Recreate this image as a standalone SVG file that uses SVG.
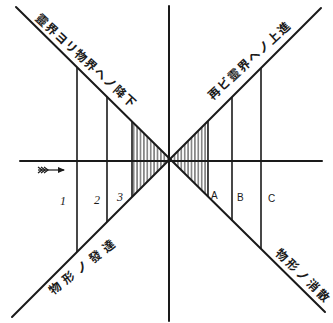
<svg xmlns="http://www.w3.org/2000/svg" width="333" height="323" viewBox="0 0 333 323">
  <defs>
    <style>
      .axis { stroke: #1a1a1a; stroke-width: 2; fill: none; stroke-linecap: round; }
      .vl { stroke: #1a1a1a; stroke-width: 1.6; fill: none; }
      .jp { font-family: "Noto Sans CJK JP", "Noto Sans CJK SC", sans-serif; font-size: 12px; font-weight: 700; fill: #1a1a1a; }
      .num { font-family: "Liberation Serif", serif; font-style: italic; font-size: 12px; fill: #1a1a1a; }
      .let { font-family: "Liberation Sans", sans-serif; font-size: 10px; fill: #1a1a1a; }
    </style>
    <pattern id="hatch" width="3.4" height="10" patternUnits="userSpaceOnUse" x="132">
      <line x1="1.7" y1="0" x2="1.7" y2="10" stroke="#1a1a1a" stroke-width="0.9"/>
    </pattern>
  </defs>
  <rect width="333" height="323" fill="#ffffff"/>

  <g id="connectors">
    <line class="axis" x1="169" y1="6" x2="169" y2="321"/>
    <line class="axis" x1="20" y1="161" x2="322" y2="161"/>
    <line class="axis" x1="16" y1="7" x2="325" y2="312"/>
    <line class="axis" x1="321" y1="8" x2="12" y2="317"/>
  </g>

  <g id="hatching">
    <polygon points="132,121.5 170,159 132,197" fill="url(#hatch)"/>
    <polygon points="208,121 170,159 208,196.5" fill="url(#hatch)"/>
  </g>

  <g id="line-1"><line class="vl" x1="77" y1="67.2" x2="77" y2="252"/><text class="num" x="60" y="205">1</text></g>
  <g id="line-2"><line class="vl" x1="107" y1="96.8" x2="107" y2="222"/><text class="num" x="94" y="204">2</text></g>
  <g id="line-3"><line class="vl" x1="132" y1="121.5" x2="132" y2="197"/><text class="num" x="117" y="201">3</text></g>
  <g id="line-A"><line class="vl" x1="208" y1="121" x2="208" y2="196.5"/><text class="let" x="211" y="199">A</text></g>
  <g id="line-B"><line class="vl" x1="232" y1="97" x2="232" y2="220.2"/><text class="let" x="237" y="201">B</text></g>
  <g id="line-C"><line class="vl" x1="261" y1="68" x2="261" y2="248.8"/><text class="let" x="268" y="202">C</text></g>

  <g id="arrow">
    <line x1="38" y1="170" x2="64" y2="170" stroke="#1a1a1a" stroke-width="1.2"/>
    <path d="M58,167 L65,170 L58,173 Z" fill="#1a1a1a"/>
    <path d="M38,167 L42,170 L38,173 M41,167 L45,170 L41,173 M44,167 L48,170 L44,173" stroke="#1a1a1a" stroke-width="1.2" fill="none"/>
  </g>

  <g id="label-descent">
    <text class="jp" transform="translate(34.5,19.3) rotate(42.5)" textLength="131" lengthAdjust="spacing">靈界ヨリ物界ヘノ降下</text>
  </g>
  <g id="label-ascent">
    <text class="jp" transform="translate(212.7,100.4) rotate(-43)" textLength="107" lengthAdjust="spacing">再ビ靈界ヘノ上進</text>
  </g>
  <g id="label-development">
    <text class="jp" transform="translate(52.9,295.2) rotate(-38)" textLength="80" lengthAdjust="spacing">物形ノ發達</text>
  </g>
  <g id="label-dissipation">
    <text class="jp" transform="translate(274.6,254) rotate(44.3)" textLength="70" lengthAdjust="spacing">物形ノ消散</text>
  </g>
</svg>
